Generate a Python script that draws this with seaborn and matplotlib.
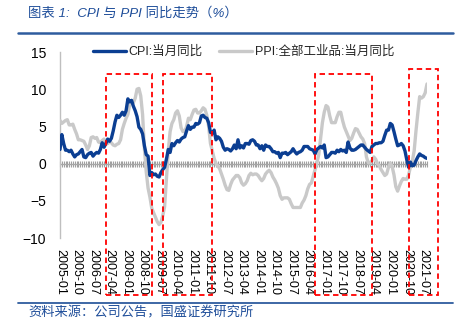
import numpy as np
import pandas as pd
import matplotlib
matplotlib.use("Agg")
import matplotlib.pyplot as plt
import matplotlib.transforms as mtransforms
from matplotlib.patches import Rectangle
from matplotlib.lines import Line2D
import seaborn as sns

# ---------------- data ----------------
months = [str(p) for p in pd.period_range("2005-01", "2021-09", freq="M")]

cpi = [1.9, 3.9, 2.7, 1.8, 1.8, 1.6, 1.8, 1.3, 0.9, 1.2, 1.3, 1.6,
       1.9, 0.9, 0.8, 1.2, 1.4, 1.5, 1.0, 1.3, 1.5, 1.4, 1.9, 2.8,
       2.2, 2.7, 3.3, 3.0, 3.4, 4.4, 5.6, 6.5, 6.2, 6.5, 6.9, 6.5,
       7.1, 8.7, 8.3, 8.5, 7.7, 7.1, 6.3, 4.9, 4.6, 4.0, 2.4, 1.2,
       1.0, -1.6, -1.2, -1.5, -1.4, -1.7, -1.8, -1.2, -0.8, -0.5, 0.6, 1.9,
       1.5, 2.7, 2.4, 2.8, 3.1, 2.9, 3.3, 3.5, 3.6, 4.4, 5.1, 4.6,
       4.9, 4.9, 5.4, 5.3, 5.5, 6.4, 6.5, 6.2, 6.1, 5.5, 4.2, 4.1,
       4.5, 3.2, 3.6, 3.4, 3.0, 2.2, 1.8, 2.0, 1.9, 1.7, 2.0, 2.5,
       2.0, 3.2, 2.1, 2.4, 2.1, 2.7, 2.7, 2.6, 3.1, 3.2, 3.0, 2.5,
       2.5, 2.0, 2.4, 1.8, 2.5, 2.3, 2.3, 2.0, 1.6, 1.6, 1.4, 1.5,
       0.8, 1.4, 1.4, 1.5, 1.2, 1.4, 1.6, 2.0, 1.6, 1.3, 1.5, 1.6,
       1.8, 2.3, 2.3, 2.3, 2.0, 1.9, 1.8, 1.3, 1.9, 2.1, 2.3, 2.1,
       2.5, 0.8, 0.9, 1.2, 1.5, 1.5, 1.4, 1.8, 1.6, 1.9, 1.7, 1.8,
       1.5, 2.9, 2.1, 1.8, 1.8, 1.9, 2.1, 2.3, 2.5, 2.5, 2.2, 1.9,
       1.7, 1.5, 2.3, 2.5, 2.7, 2.7, 2.8, 2.8, 3.0, 3.8, 4.5, 4.5,
       5.4, 5.2, 4.3, 3.3, 2.4, 2.5, 2.7, 2.4, 1.7, 0.5, -0.5, 0.2,
       -0.3, -0.2, 0.4, 0.9, 1.3, 1.1, 1.0, 0.8, 0.7]

ppi = [5.8, 5.4, 5.6, 5.8, 5.9, 5.2, 5.2, 5.3, 4.6, 4.0, 3.2, 3.2,
       3.1, 3.0, 2.5, 1.9, 2.4, 3.5, 3.6, 3.4, 3.5, 2.9, 2.8, 3.1,
       3.3, 2.6, 2.7, 2.9, 2.8, 2.5, 2.4, 2.6, 2.7, 3.2, 4.6, 5.4,
       6.1, 6.6, 8.0, 8.1, 8.2, 8.8, 10.0, 10.1, 9.1, 6.6, 2.0, -1.1,
       -3.3, -4.5, -6.0, -6.6, -7.2, -7.8, -8.2, -7.9, -7.0, -5.8, -2.1, 1.7,
       4.3, 5.4, 5.9, 6.8, 7.1, 6.4, 4.8, 4.3, 4.3, 5.0, 6.1, 5.9,
       6.6, 7.2, 7.3, 6.8, 6.8, 7.1, 7.5, 7.3, 6.5, 5.0, 2.7, 1.7,
       0.7, 0.0, -0.3, -0.7, -1.4, -2.1, -2.9, -3.5, -3.6, -2.8, -2.2, -1.9,
       -1.6, -1.6, -1.9, -2.6, -2.9, -2.7, -2.3, -1.6, -1.3, -1.5, -1.4, -1.4,
       -1.6, -2.0, -2.3, -2.0, -1.4, -1.1, -0.9, -1.2, -1.8, -2.2, -2.7, -3.3,
       -4.3, -4.8, -4.6, -4.6, -4.6, -4.8, -5.4, -5.9, -5.9, -5.9, -5.9, -5.9,
       -5.3, -4.9, -4.3, -3.4, -2.8, -2.6, -1.7, -0.8, 0.1, 1.2, 3.3, 5.5,
       6.9, 7.8, 7.6, 6.4, 5.5, 5.5, 5.5, 6.3, 6.9, 6.9, 5.8, 4.9,
       4.3, 3.7, 3.1, 3.4, 4.1, 4.7, 4.6, 4.1, 3.6, 3.3, 2.7, 0.9,
       0.1, 0.1, 0.4, 0.9, 0.6, 0.0, -0.3, -0.8, -1.2, -1.6, -1.4, -0.5,
       0.1, -0.4, -1.5, -3.1, -3.7, -3.0, -2.4, -2.0, -2.1, -2.1, -1.5, -0.4,
       0.3, 1.7, 4.4, 6.8, 9.0, 8.8, 9.0, 9.5, 10.7]

tick_labels = ["2005-01", "2005-10", "2006-07", "2007-04", "2008-01", "2008-10",
               "2009-07", "2010-04", "2011-01", "2011-10", "2012-07", "2013-04",
               "2014-01", "2014-10", "2015-07", "2016-04", "2017-01", "2017-10",
               "2018-07", "2019-04", "2020-01", "2020-10", "2021-07"]

# highlighted periods (start month, end month)
box_periods = [("2007-02", "2009-03"), ("2009-09", "2011-12"),
               ("2016-08", "2019-03"), ("2020-11", "2022-03")]

cpi_name = "CPI:当月同比"
ppi_name = "PPI:全部工业品:当月同比"

# ---------------- build ----------------
df = pd.DataFrame({"month": months, "CPI": cpi, "PPI": ppi})
df["t"] = np.arange(len(df))

def month_pos(m):
    p = pd.Period(m, freq="M") - pd.Period(months[0], freq="M")
    return p.n

sns.set_theme(style="white")
plt.rcParams["font.family"] = ["Liberation Sans", "Noto Sans CJK SC", "DejaVu Sans"]

fig = plt.figure(figsize=(4.66, 3.27), dpi=100)
ax = fig.add_axes([60/466, 1-238/327, (427-60)/466, (238-52)/327])

blue = "#0B3E92"
grey = "#C9C9C9"
sns.lineplot(data=df, x="t", y="PPI", ax=ax, color=grey, lw=2.4, label=ppi_name, zorder=3)
sns.lineplot(data=df, x="t", y="CPI", ax=ax, color=blue, lw=2.4, label=cpi_name, zorder=4)

ax.set_xlim(0, len(df) - 1)
ax.set_ylim(-10, 15)
ax.set_yticks([-10, -5, 0, 5, 10, 15])
ax.set_xlabel("")
ax.set_ylabel("")
ax.set_xticks([month_pos(m) for m in tick_labels])
ax.set_xticklabels(tick_labels, rotation=-90, fontsize=9, color="#000000")
ax.tick_params(axis="x", length=0, pad=8)
ax.tick_params(axis="y", length=0, pad=10, labelsize=10, labelcolor="#000000")

for s in ["top", "right", "bottom"]:
    ax.spines[s].set_visible(False)
ax.spines["left"].set_color("#BFBFBF")
ax.spines["left"].set_linewidth(1.0)

# zero line with monthly ticks
ax.axhline(0, color="#A6A6A6", lw=1.0, zorder=2)
frac0 = (0 - (-10)) / (15 - (-10))
sec = ax.secondary_xaxis(frac0)
sec.set_xticks(df["t"].values)
sec.tick_params(axis="x", direction="inout", length=4, width=0.8, color="#A0A0A0",
                labelbottom=False, labeltop=False)
sec.spines["bottom"].set_visible(False)
sec.spines["top"].set_visible(False)

# legend
h, l = ax.get_legend_handles_labels()
order = [l.index(cpi_name), l.index(ppi_name)]
leg = ax.legend([h[i] for i in order], [l[i] for i in order], loc="center",
                bbox_to_anchor=(0.5, 1.0), ncol=2, frameon=False, fontsize=9,
                handlelength=2.6, handletextpad=0.25, columnspacing=1.3,
                borderaxespad=0)

# red dashed boxes
trans = mtransforms.blended_transform_factory(ax.transData, fig.transFigure)
bottom_f = 1 - 295/327
for k, (a, b) in enumerate(box_periods):
    x0 = month_pos(a)
    x1 = month_pos(b)
    top_f = 1 - (69 if k == 3 else 74)/327
    r = Rectangle((x0, bottom_f), x1 - x0, top_f - bottom_f, transform=trans,
                  fill=False, edgecolor="#FF0000", lw=1.3, ls=(0, (3, 2)),
                  clip_on=False, zorder=6)
    ax.add_patch(r)

# title, rules, source
rule_c = "#2E5C9E"
fig.add_artist(Line2D([18/466, 453/466], [1-33/327, 1-33/327], color=rule_c, lw=1.8))
fig.add_artist(Line2D([18/466, 453/466], [1-303/327, 1-303/327], color=rule_c, lw=1.3))
fig.text(28/466, 1-13/327, "图表 1:  CPI 与 PPI 同比走势（%）", fontsize=9.6,
         color="#1F4E9A", style="italic", va="center", ha="left")
fig.text(28/466, 1-313/327, "资料来源：公司公告，国盛证券研究所", fontsize=9.5,
         color="#1F4E9A", style="italic", va="center", ha="left")

fig.savefig("out.png", dpi=100)
